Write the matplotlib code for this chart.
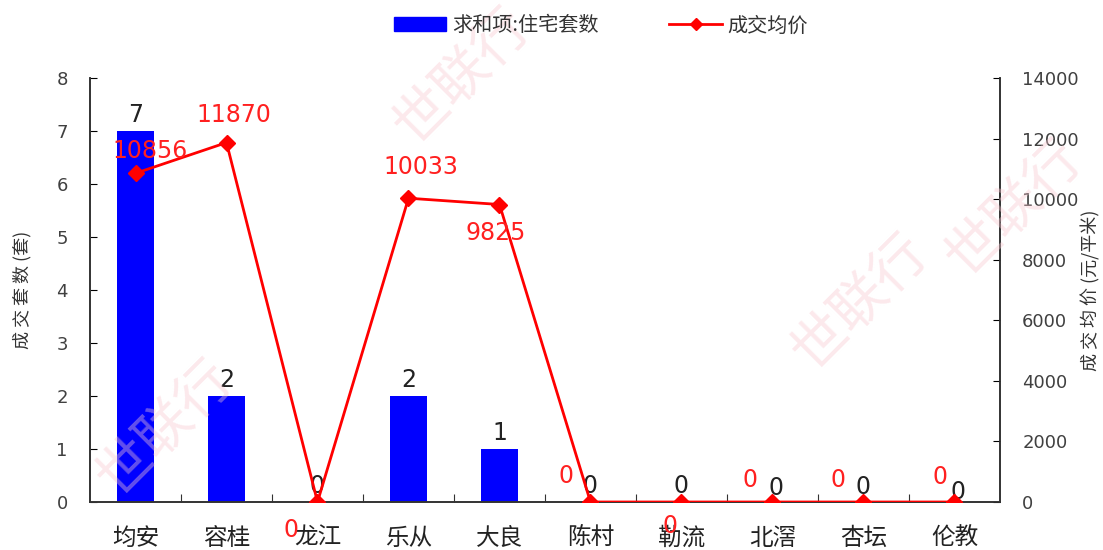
import matplotlib
matplotlib.use("Agg")
import matplotlib.pyplot as plt
from matplotlib.lines import Line2D
from matplotlib.patches import Patch

plt.rcParams['font.family'] = ['DejaVu Sans', 'Noto Sans CJK SC']
CJK = ['Noto Sans CJK SC', 'DejaVu Sans']

categories = ['均安', '容桂', '龙江', '乐从', '大良', '陈村', '勒流', '北滘', '杏坛', '伦教']
units = [7, 2, 0, 2, 1, 0, 0, 0, 0, 0]
avg_price = [10856, 11870, 0, 10033, 9825, 0, 0, 0, 0, 0]
# label offsets (pixels) for the red price labels
price_label_offsets = [(15, 22), (7, 28), (-26, -28), (12, 31), (-4, -28),
                       (-24, 26), (-11, -24), (-22, 22), (-25, 22), (-14, 25)]
unit_label_offsets = [(0, 4), (0, 4), (0, 4), (0, 4), (0, 4),
                      (0, 4), (0, 4), (4, 2), (0, 3), (4, -2)]

fig = plt.figure(figsize=(11.03, 5.5), dpi=100)
ax = fig.add_axes([0.0816, 0.0873, 0.825, 0.7707])
ax2 = ax.twinx()

x = list(range(len(categories)))
ax.bar(x, units, width=0.41, color='#0000FF', zorder=2)
ax.set_ylim(0, 8)
ax.set_xlim(-0.5, len(categories) - 0.5)
ax.set_yticks(range(0, 9))
ax.set_xticks([i + 0.5 for i in range(len(categories) - 1)], minor=False)
ax.set_xticklabels([])
ax.set_xticks(x, minor=True)
ax.set_xticklabels(categories, minor=True, fontsize=17, color='#222222', family=CJK)
ax.tick_params(axis='x', which='minor', length=0, pad=18)
ax.tick_params(axis='x', which='major', direction='in', length=6, color='#333333')
ax.tick_params(axis='y', direction='in', length=5, labelsize=13, labelcolor='#404040', pad=16)
ax.set_ylabel('成 交 套 数 (套)', fontsize=13, color='#333333', labelpad=18, family=CJK)

ax2.plot(x, avg_price, color='#FF0000', lw=2, marker='D', markersize=8, zorder=3)
ax2.set_ylim(0, 14000)
ax2.set_yticks(range(0, 14001, 2000))
ax2.tick_params(axis='y', direction='in', length=5, labelsize=13, labelcolor='#404040', pad=16)
ax2.set_ylabel('成 交 均 价 (元/平米)', fontsize=13, color='#333333', labelpad=2, family=CJK)

for a in (ax, ax2):
    a.spines['top'].set_visible(False)
    for s in ['left', 'right', 'bottom']:
        a.spines[s].set_color('#333333')
        a.spines[s].set_linewidth(1.2)

for xi, v, off in zip(x, units, unit_label_offsets):
    ax.annotate(str(v), (xi, v), xytext=(off[0] * 0.72, off[1] * 0.72), textcoords='offset points',
                ha='center', va='bottom', fontsize=17, color='#222222', zorder=5)
for xi, v, off in zip(x, avg_price, price_label_offsets):
    ax2.annotate(str(v), (xi, v), xytext=(off[0] * 0.72, off[1] * 0.72), textcoords='offset points',
                 ha='center', va='center', fontsize=17, color='#FF2020', zorder=5)

# watermarks
for (wx, wy, s) in [(0.42, 0.86, '世联行'), (0.92, 0.62, '世联行'), (0.78, 0.45, '世联行'),
                    (0.15, 0.22, '世联行')]:
    fig.text(wx, wy, s, fontsize=40, color='#F8C8D0', alpha=0.4, rotation=45,
             ha='center', va='center', zorder=0, family=CJK)

handles = [Patch(color='#0000FF'),
           Line2D([0], [0], color='#FF0000', lw=2, marker='D', markersize=6)]
fig.legend(handles, ['求和项:住宅套数', '成交均价'], loc='upper center', bbox_to_anchor=(0.545, 1.005),
           ncol=2, frameon=False, handlelength=2.6, handleheight=0.7, handletextpad=0.3,
           columnspacing=3.5, labelcolor='#333333', prop={'family': CJK, 'size': 14.5})

fig.savefig('out.png', dpi=100)
